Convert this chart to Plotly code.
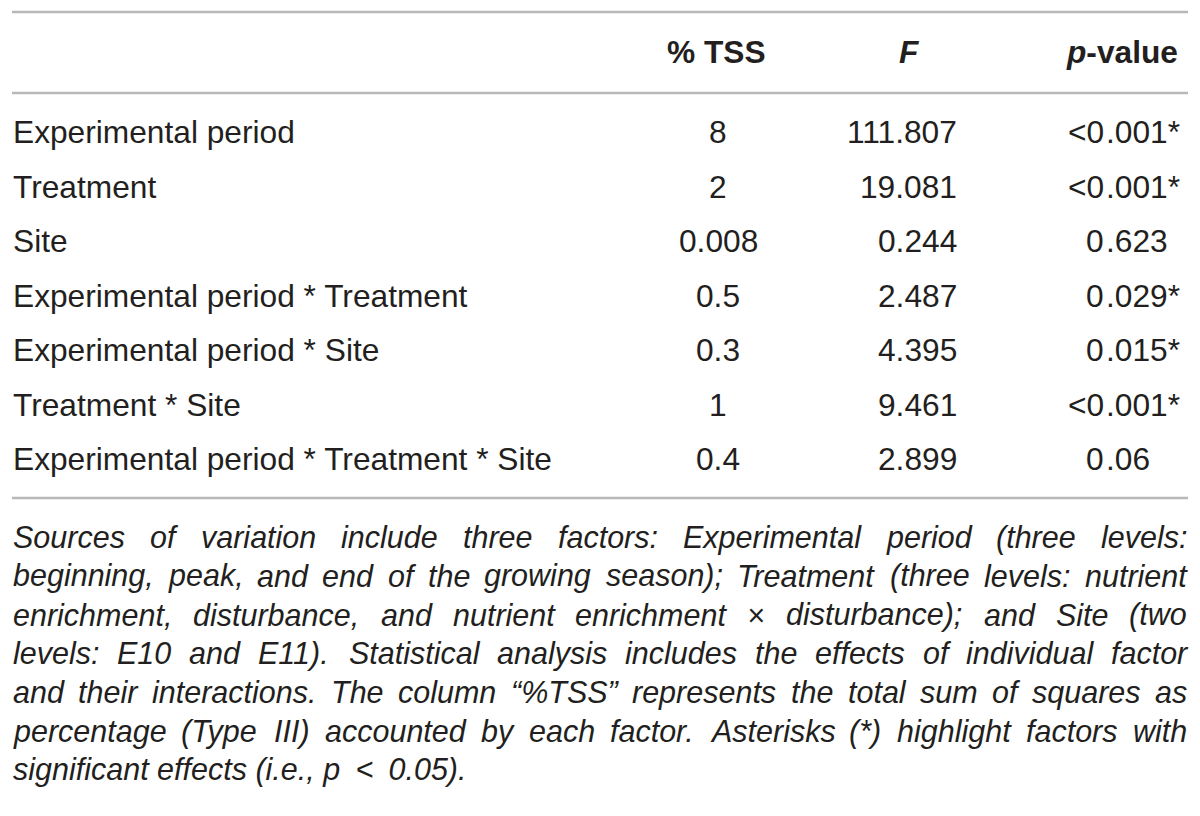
import plotly.graph_objects as go

# table content
sources = ["Experimental period", "Treatment", "Site",
           "Experimental period * Treatment", "Experimental period * Site",
           "Treatment * Site", "Experimental period * Treatment * Site"]
tss = ["8", "2", "0.008", "0.5", "0.3", "1", "0.4"]
f_vals = ["111.807", "19.081", "0.244", "2.487", "4.395", "9.461", "2.899"]
p_vals = ["<0.001*", "<0.001*", "0.623", "0.029*", "0.015*", "<0.001*", "0.06"]
headers = ["% TSS", "<i>F</i>", "<i>p</i>-value"]

footnote = [
    "Sources of variation include three factors: Experimental period (three levels:",
    "beginning, peak, and end of the growing season); Treatment (three levels: nutrient",
    "enrichment, disturbance, and nutrient enrichment \u00d7 disturbance); and Site (two",
    "levels: E10 and E11). Statistical analysis includes the effects of individual factor",
    "and their interactions. The column \u201c%TSS\u201d represents the total sum of squares as",
    "percentage (Type III) accounted by each factor. Asterisks (*) highlight factors with",
    "significant effects (i.e., p\u2002<\u20020.05).",
]

FONT = "Liberation Sans, Arial, sans-serif"
INK = "#231f20"
RULE = "#b8b8b8"
FS = 31.7
FS_NOTE = 30.5

# Arial / Liberation Sans advance widths (1/1000 em), used to justify the note
W = {" ": 278, "!": 278, '"': 355, "%": 889, "(": 333, ")": 333, "*": 389, ",": 278,
     "-": 333, ".": 278, "/": 278, ":": 278, ";": 278, "<": 584, ">": 584, "=": 584,
     "\u201c": 333, "\u201d": 333, "\u00d7": 584}
for c in "0123456789":
    W[c] = 556
W.update(dict(zip("ABCDEFGHIJKLMNOPQRSTUVWXYZ",
                  [667, 667, 722, 722, 667, 611, 778, 722, 278, 500, 667, 556, 833,
                   722, 778, 667, 778, 722, 667, 611, 722, 667, 944, 667, 667, 611])))
W.update(dict(zip("abcdefghijklmnopqrstuvwxyz",
                  [556, 556, 500, 556, 556, 278, 556, 556, 222, 222, 500, 222, 833,
                   556, 556, 556, 556, 333, 500, 278, 556, 500, 722, 500, 500, 500])))


def text_width(s, size):
    return sum(W.get(c, 556) for c in s) * size / 1000.0


fig = go.Figure()
ann = []


def put(x, y, text, anchor="left", size=FS, italic=False):
    if italic:
        text = "<i>" + text + "</i>"
    ann.append(dict(x=x, y=y, xref="x", yref="y", text=text, showarrow=False,
                    xanchor=anchor, yanchor="middle",
                    font=dict(family=FONT, size=size, color=INK)))


# rules
x_left, x_right = 12, 1188
for yy in [12, 93, 498]:
    fig.add_shape(type="line", x0=x_left, x1=x_right, y0=yy, y1=yy,
                  line=dict(color=RULE, width=2.5))

# header
head_y = 52
put(716, head_y, "<b>" + headers[0] + "</b>", "center")
put(909, head_y, "<b>" + headers[1] + "</b>", "center")
put(1180, head_y, "<b>" + headers[2] + "</b>", "right")

# body rows
row0, row_step = 132, 54.5
p_dec = 1105   # p-values line up on the decimal point
for i in range(len(sources)):
    y = row0 + i * row_step
    put(11, y, sources[i], "left")
    put(718, y, tss[i], "center")
    put(959, y, f_vals[i], "right")
    whole, frac = p_vals[i].split(".")
    put(p_dec + 1, y, whole, "right")
    put(p_dec - 1, y, "." + frac, "left")

# footnote, justified between the rules' ends
note0, note_step = 537, 38.8
nl, nr = 12, 1186
for k, line in enumerate(footnote):
    y = note0 + k * note_step
    if k == len(footnote) - 1:
        put(nl - 1, y, line, "left", FS_NOTE, italic=True)
        continue
    words = line.split(" ")
    widths = [text_width(w, FS_NOTE) for w in words]
    gap = (nr - nl - sum(widths)) / (len(words) - 1)
    x = nl
    for w, wd in zip(words, widths):
        put(x - 1, y, w, "left", FS_NOTE, italic=True)
        x += wd + gap

# the page body adds an 8px margin, so the axes are offset to compensate
fig.update_layout(
    width=1200, height=816,
    margin=dict(l=0, r=0, t=0, b=0),
    paper_bgcolor="white", plot_bgcolor="white",
    xaxis=dict(range=[8, 1208], visible=False, fixedrange=True),
    yaxis=dict(range=[824, 8], visible=False, fixedrange=True),
    annotations=ann,
    showlegend=False,
)

fig.write_html("out.html")
